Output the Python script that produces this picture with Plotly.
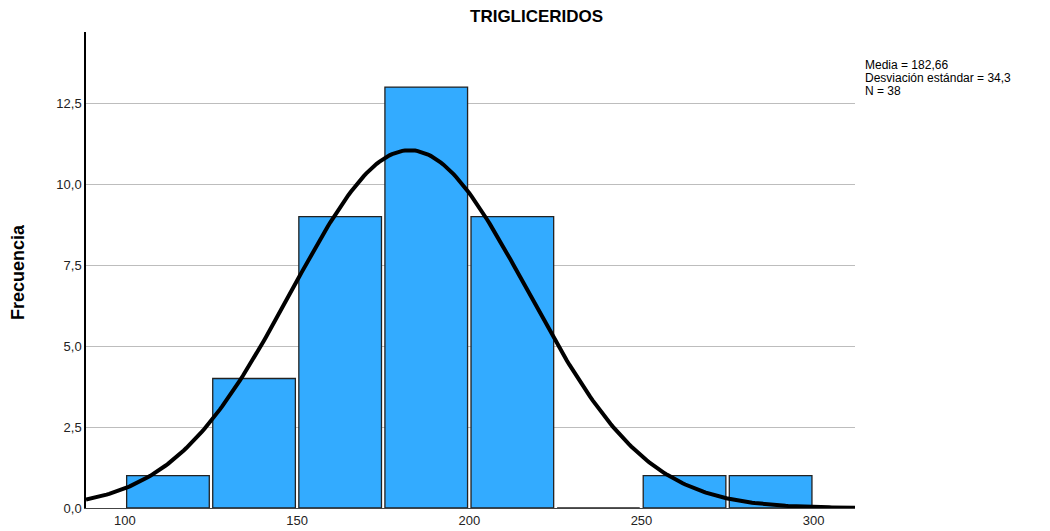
import numpy as np
import plotly.graph_objects as go

BIN_STARTS = [100, 125, 150, 175, 200, 225, 250, 275]
COUNTS = [1, 4, 9, 13, 9, 0, 1, 1]
BIN_WIDTH = 25
MEAN = 182.66
SD = 34.3
N = 38
X_TICKS = [100, 150, 200, 250, 300]
Y_TICKS = [0, 2.5, 5, 7.5, 10, 12.5]
STATS_LINES = ["Media = 182,66", "Desviación estándar = 34,3", "N = 38"]

BAR_COLOR = "#33ABFF"
FONT = "Liberation Sans, Arial, sans-serif"

W, H = 1050, 531
OFF = 8  # page body margin shifts the figure
# target plot box in window pixels: x 86..855, y 32..508
M = {"l": 86 - OFF, "r": W + OFF - 855, "t": 32 - OFF, "b": H + OFF - 508}
plot_w = 855 - 86
plot_h = 508 - 32


def px_x(px):
    return (px - 86) / plot_w


def px_y(py):
    return (508 - py) / plot_h


centers = [s + BIN_WIDTH / 2 for s in BIN_STARTS]

# normal curve from the stated mean / sd, scaled to counts
xs = np.linspace(88.7, 312, 300)
ys = N * BIN_WIDTH / (SD * np.sqrt(2 * np.pi)) * np.exp(-0.5 * ((xs - MEAN) / SD) ** 2)

fig = go.Figure()
fig.add_trace(
    go.Bar(
        x=centers,
        y=COUNTS,
        width=BIN_WIDTH - 1,
        marker={"color": BAR_COLOR, "line": {"color": "#222222", "width": 1.3}},
        hoverinfo="skip",
    )
)
fig.add_trace(
    go.Scatter(
        x=xs,
        y=ys,
        mode="lines",
        line={"color": "black", "width": 4},
        hoverinfo="skip",
    )
)

annotations = [
    {
        "text": "<b>TRIGLICERIDOS</b>",
        "x": px_x(536),
        "y": px_y(17),
        "xanchor": "center",
        "font": {"size": 17, "color": "black"},
    },
    {
        "text": "<b>Frecuencia</b>",
        "x": px_x(18),
        "y": px_y(272),
        "xanchor": "center",
        "textangle": -90,
        "font": {"size": 18, "color": "black"},
    },
]
for i, line in enumerate(STATS_LINES):
    annotations.append(
        {
            "text": line,
            "x": px_x(863),
            "y": px_y(65 + 13 * i),
            "xanchor": "left",
            "font": {"size": 12, "color": "black"},
        }
    )
for a in annotations:
    a.update({"xref": "paper", "yref": "paper", "yanchor": "middle", "showarrow": False})

fig.update_layout(
    width=W,
    height=H,
    margin=M,
    paper_bgcolor="white",
    plot_bgcolor="white",
    showlegend=False,
    separators=",.",
    font={"family": FONT, "color": "#222222", "size": 12},
    annotations=annotations,
)

fig.update_xaxes(
    range=[88.7, 312],
    tickvals=X_TICKS,
    showgrid=False,
    zeroline=False,
    showline=True,
    linecolor="#444444",
    linewidth=1,
    ticks="",
    automargin=False,
    tickfont={"size": 13, "color": "#222222"},
)
fig.update_yaxes(
    range=[0, 14.7],
    tickvals=Y_TICKS,
    tickformat=".1f",
    showgrid=True,
    gridcolor="#BDBDBD",
    zeroline=False,
    showline=True,
    linecolor="black",
    linewidth=1.5,
    ticks="",
    automargin=False,
    tickfont={"size": 13, "color": "#222222"},
)

fig.write_html("out.html", config={"responsive": False})
